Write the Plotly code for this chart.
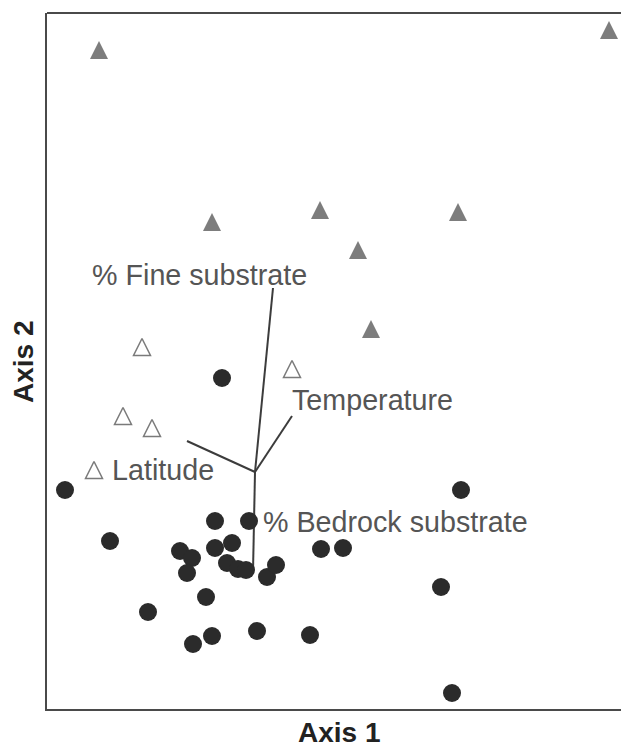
import plotly.graph_objects as go

# Ordination scores (Axis 1, Axis 2)
group_a_x = [-0.33, -1.90, 2.06, -0.40, -0.06, -1.45, -0.75, -0.63, -0.68, -0.40, -0.23, -0.28, -0.17,
             -0.09, 0.12, 0.21, -0.49, -1.07, -0.43, -0.62, 0.02, 0.55, 0.66, 0.88, 1.86, 1.97]
group_a_y = [0.94, -0.18, -0.18, -0.49, -0.49, -0.69, -0.79, -0.86, -1.01, -0.76, -0.71, -0.91, -0.97,
             -0.98, -1.05, -0.93, -1.25, -1.40, -1.64, -1.72, -1.59, -1.63, -0.77, -0.76, -1.15, -2.21]

group_b_x = [-1.56, 3.54, -0.43, 0.65, 2.03, 1.03, 1.16]
group_b_y = [4.22, 4.42, 2.50, 2.62, 2.60, 2.22, 1.43]

group_c_x = [-1.13, 0.37, -1.32, -1.03, -1.61]
group_c_y = [1.25, 1.03, 0.56, 0.44, 0.02]

# Environmental vectors (biplot)
vector_names = ["% Fine substrate", "Temperature", "Latitude", "% Bedrock substrate"]
vector_x = [0.18, 0.37, -0.68, -0.02]
vector_y = [1.84, 0.56, 0.31, -1.00]

axis_titles = ["Axis 1", "Axis 2"]

# label anchor positions (left-middle) in axis units
label_pos = {
    "% Fine substrate": (-1.63, 1.97),
    "Temperature": (0.37, 0.72),
    "Latitude": (-1.43, 0.02),
    "% Bedrock substrate": (0.08, -0.50),
}

FONT = "Liberation Sans, Arial, sans-serif"

fig = go.Figure()

vx, vy = [], []
for x, y in zip(vector_x, vector_y):
    vx += [0, x, None]
    vy += [0, y, None]
fig.add_trace(go.Scatter(x=vx, y=vy, mode="lines",
                         line=dict(color="#3c3c3c", width=2), hoverinfo="skip"))

TRI_B = 18
TRI_C = 17
# centred upward triangle with equal width and height
fig.add_trace(go.Scatter(x=group_b_x, y=group_b_y, mode="markers",
                         marker=dict(symbol="arrow-down", angle=180, standoff=TRI_B / 2,
                                     size=TRI_B, color="#7d7d7d", line=dict(width=0))))
fig.add_trace(go.Scatter(x=group_c_x, y=group_c_y, mode="markers",
                         marker=dict(symbol="arrow-down", angle=180, standoff=TRI_C / 2,
                                     size=TRI_C, color="white",
                                     line=dict(width=1.5, color="#7a7a7a"))))
fig.add_trace(go.Scatter(x=group_a_x, y=group_a_y, mode="markers",
                         marker=dict(symbol="circle", size=18, color="#2b2b2b",
                                     line=dict(width=0))))

for name in vector_names:
    px_, py_ = label_pos[name]
    fig.add_annotation(x=px_, y=py_, text=name, showarrow=False, xanchor="left", yanchor="middle",
                       xshift=-2, font=dict(family=FONT, size=28.7, color="#555555"))

fig.add_annotation(xref="paper", yref="paper", x=0.51, y=0, yshift=-23, text="<b>" + axis_titles[0] + "</b>",
                   showarrow=False, xanchor="center", yanchor="middle",
                   font=dict(family=FONT, size=28, color="#222222"))
fig.add_annotation(xref="paper", yref="paper", x=0, y=0.5, xshift=-24, yshift=-1, text="<b>" + axis_titles[1] + "</b>",
                   showarrow=False, xanchor="center", yanchor="middle", textangle=-90,
                   font=dict(family=FONT, size=28, color="#222222"))

fig.add_shape(type="line", xref="paper", yref="paper", x0=0, x1=1, y0=1, y1=1,
              line=dict(color="#4a4a4a", width=2))

fig.update_xaxes(range=[-2.08, 3.66], showgrid=False, zeroline=False, showticklabels=False,
                 ticks="", showline=True, linecolor="#4a4a4a", linewidth=2)
fig.update_yaxes(range=[-2.37, 4.59], showgrid=False, zeroline=False, showticklabels=False,
                 ticks="", showline=True, linecolor="#4a4a4a", linewidth=2)

fig.update_layout(width=621, height=748, margin=dict(l=47, r=0, t=13, b=39),
                  plot_bgcolor="white", paper_bgcolor="white", showlegend=False)

fig.write_html("out.html", config={"displayModeBar": False},
               post_script="document.body.style.margin='0';document.body.style.overflow='hidden';")
